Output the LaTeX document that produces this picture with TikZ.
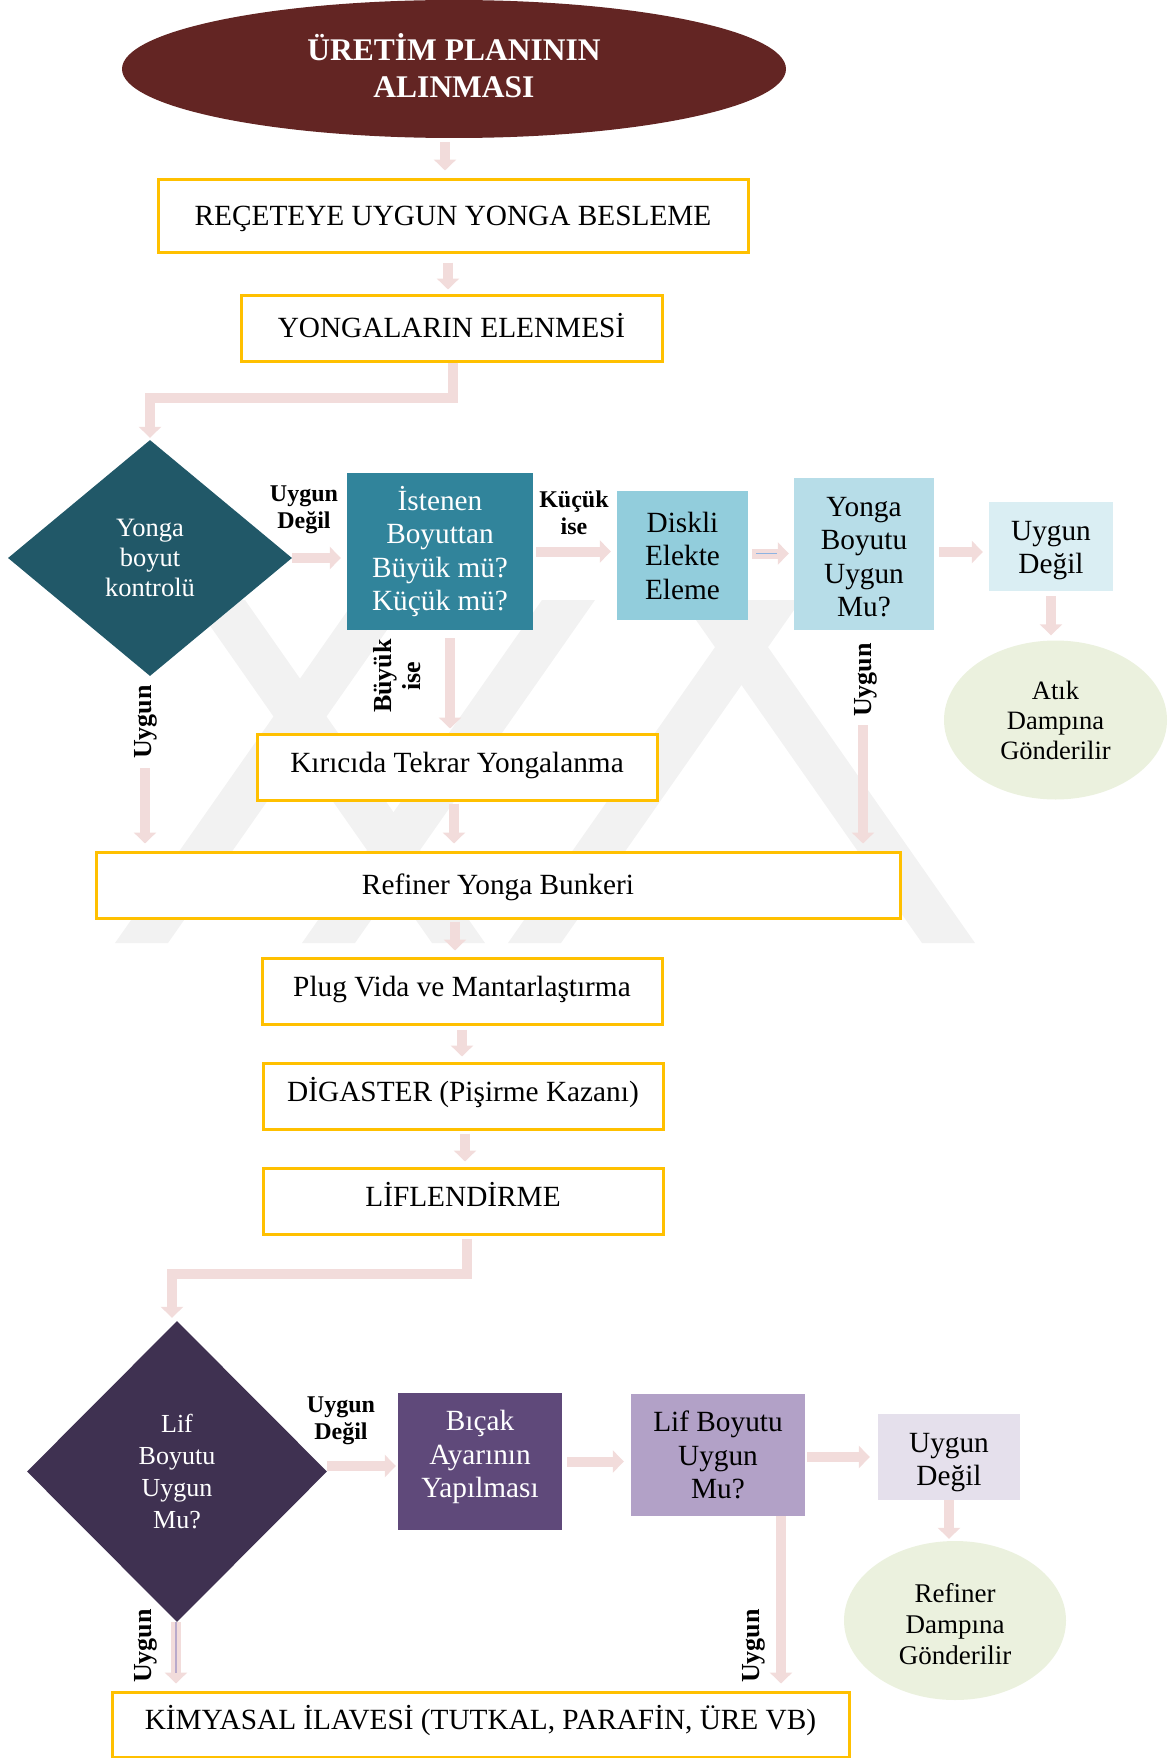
\documentclass[tikz,border=0pt]{standalone}
\usepackage{fontspec}
\setmainfont{Liberation Serif}
\usetikzlibrary{shapes.geometric,arrows.meta}

\definecolor{arrowpink}{HTML}{F2DCDB}
\definecolor{boxgold}{HTML}{FFC000}
\definecolor{maroon}{HTML}{632523}
\definecolor{tealdark}{HTML}{215868}
\definecolor{tealmid}{HTML}{31849B}
\definecolor{teallight}{HTML}{92CDDC}
\definecolor{tealpale}{HTML}{B7DDE8}
\definecolor{tealfaint}{HTML}{DAEEF3}
\definecolor{sage}{HTML}{EBF1DE}
\definecolor{plumdark}{HTML}{3F3151}
\definecolor{plummid}{HTML}{5F497A}
\definecolor{plumlight}{HTML}{B2A1C7}
\definecolor{plumfaint}{HTML}{E5E0EC}
\definecolor{markgray}{HTML}{F2F2F2}
\definecolor{hairplum}{HTML}{B9AACB}
\definecolor{hairblue}{HTML}{8DB3E2}

\tikzset{
  procbox/.style={draw=boxgold, line width=3pt, fill=white, inner sep=0pt,
    font=\fontsize{29.3}{33.5}\selectfont, align=center,
    text height=22pt, text depth=11.6pt},
  centred/.style={text height=24pt, text depth=4.6pt},
  colbox/.style={inner sep=0pt, font=\fontsize{29.3}{33.5}\selectfont, align=center},
  decision/.style={diamond, inner sep=0pt, text=white, align=center},
  outcome/.style={ellipse, fill=sage, inner sep=0pt, align=center,
    font=\fontsize{26.5}{30}\selectfont},
  tag/.style={font=\bfseries\fontsize{24}{27.5}\selectfont, align=center, inner sep=1pt},
  vtag/.style={font=\bfseries\fontsize{26}{29}\selectfont, align=center, rotate=90, inner sep=1pt},
  flow/.style={draw=arrowpink, line width=10pt, -{Triangle[width=22pt,length=11pt]}},
}

\begin{document}
\begin{tikzpicture}[x=1pt,y=-1pt]
\useasboundingbox (0,0) rectangle (1175,1758);

% faint background emblem
\fill[markgray] (115,943) -- (168,943) -- (408,600) -- (355,600) -- cycle;
\fill[markgray] (192,600) -- (245,600) -- (485,943) -- (432,943) -- cycle;
\fill[markgray] (302,943) -- (355,943) -- (595,600) -- (542,600) -- cycle;
\fill[markgray] (508,943) -- (561,943) -- (801,600) -- (748,600) -- cycle;
\fill[markgray] (682,600) -- (735,600) -- (975,943) -- (922,943) -- cycle;

% upper part
\node[ellipse, fill=maroon, minimum width=664pt, minimum height=138pt, inner sep=0pt]
  (title) at (454,69) {};
\node[text=white, font=\bfseries\fontsize{31.5}{37}\selectfont, align=center]
  (titletxt) at ([yshift=3pt]title.center) {ÜRETİM PLANININ\\ALINMASI};
\node[procbox, centred, minimum width=590pt, minimum height=73pt] (box1) at (453,215.5)
  {REÇETEYE UYGUN YONGA BESLEME};
\node[procbox, centred, minimum width=421pt, minimum height=66pt] (box2) at (451.5,328)
  {YONGALARIN ELENMESİ};

\node[decision, fill=tealdark, minimum width=284pt, minimum height=236pt,
  font=\fontsize{26.5}{30}\selectfont] (d1) at (150,558) {Yonga\\boyut\\kontrolü};
\node[tag] (t1) at (304,510) {Uygun\\Değil};
\node[colbox, fill=tealmid, text=white, minimum width=186pt, minimum height=157pt]
  (box3) at (440,551.5) {İstenen\\Boyuttan\\Büyük mü?\\Küçük mü?};
\node[tag] (t2) at (574,513) {Küçük\\ise};
\node[colbox, fill=teallight, minimum width=131pt, minimum height=129pt]
  (box4) at (682.5,555.5) {Diskli\\Elekte\\Eleme};
\node[colbox, fill=tealpale, minimum width=140pt, minimum height=152pt]
  (box5) at (864,554) {};
\node[colbox] (box5txt) at ([yshift=-3pt]box5.center) {Yonga\\Boyutu\\Uygun\\Mu?};
\node[colbox, fill=tealfaint, minimum width=124pt, minimum height=89pt]
  (box6) at (1051,546.5) {};
\node[colbox] (box6txt) at ([yshift=-4pt]box6.center) {Uygun\\Değil};
\node[outcome, minimum width=223pt, minimum height=159pt] (atik) at (1055.5,720)
  {Atık\\Dampına\\Gönderilir};

\node[vtag] (t3) at (397,676) {Büyük\\ise};
\node[vtag] (lblL) at (146,722) {Uygun};
\node[vtag] (lblR) at (866,680) {Uygun};

\node[procbox, minimum width=400pt, minimum height=66pt] (kir) at (457,767)
  {Kırıcıda Tekrar Yongalanma};
\node[procbox, centred, minimum width=804pt, minimum height=66pt] (ref) at (498,885)
  {Refiner Yonga Bunkeri};
\node[procbox, minimum width=400pt, minimum height=66pt] (plug) at (462,991)
  {Plug Vida ve Mantarlaştırma};
\node[procbox, minimum width=400pt, minimum height=66pt] (dig) at (463,1096)
  {DİGASTER (Pişirme Kazanı)};
\node[procbox, minimum width=400pt, minimum height=66pt] (liff) at (463,1201)
  {LİFLENDİRME};

% lower part
\node[decision, fill=plumdark, minimum width=300pt, minimum height=301pt,
  font=\fontsize{26}{32}\selectfont] (d2) at (177,1471.5) {Lif\\Boyutu\\Uygun\\Mu?};
\node[tag] (t4) at (341,1421) {Uygun\\Değil};
\node[colbox, fill=plummid, minimum width=164pt, minimum height=137pt]
  (bicak) at (480,1461.5) {};
\node[colbox, text=white] (bicaktxt) at ([yshift=4.5pt]bicak.center)
  {Bıçak\\Ayarının\\Yapılması};
\node[colbox, fill=plumlight, minimum width=174pt, minimum height=122pt]
  (lifbox) at (718,1455) {Lif Boyutu\\Uygun\\Mu?};
\node[colbox, fill=plumfaint, minimum width=142pt, minimum height=86pt]
  (ud2) at (949,1457) {};
\node[colbox] (ud2txt) at ([yshift=-5.5pt]ud2.center) {Uygun\\Değil};
\node[outcome, minimum width=222pt, minimum height=159pt] (refel) at (955,1620.5) {};
\node[font=\fontsize{27}{31}\selectfont, align=center, inner sep=0pt] (refeltxt)
  at ([yshift=-3.5pt]refel.center) {Refiner\\Dampına\\Gönderilir};
\node[vtag] (lblL2) at (146,1646) {Uygun};
\node[vtag] (lblR2) at (754,1646) {Uygun};
\node[procbox, minimum width=737pt, minimum height=65pt] (kim) at (480.5,1724.5)
  {KİMYASAL İLAVESİ (TUTKAL, PARAFİN, ÜRE VB)};

% connectors
\draw[flow, shorten <=4pt, shorten >=7pt] ([xshift=-9pt]title.south) -- ([xshift=-9pt]title.south |- box1.north);
\draw[flow, shorten <=9pt, shorten >=4pt] ([xshift=-5pt]box1.south) -- ([xshift=-5pt]box1.south |- box2.north);
\draw[flow, shorten >=2pt] ([xshift=1pt]box2.south) -- ++(0,35) -| (d1.north);
\draw[flow, shorten >=6pt] (d1.east) -- (d1.east -| box3.west);
\draw[flow, shorten <=3pt, shorten >=6pt] (box3.east) -- (box3.east -| box4.west);
\draw[flow, shorten <=4pt, shorten >=5pt] ([yshift=2pt]box4.east) -- ([yshift=2pt]box4.east -| box5.west);
\draw[hairblue, line width=1.2pt, shorten <=8pt, shorten >=17pt] ([yshift=2pt]box4.east) -- ([yshift=2pt]box4.east -| box5.west);
\draw[flow, shorten <=5pt, shorten >=6pt] ([yshift=2pt]box5.east) -- ([yshift=2pt]box5.east -| box6.west);
\draw[flow, shorten <=5pt, shorten >=5pt] (box6.south) -- (box6.south |- atik.north);
\draw[flow, shorten <=8pt, shorten >=4pt] ([xshift=10pt]box3.south) -- ([xshift=10pt]box3.south |- kir.north);
\draw[flow, shorten <=2pt, shorten >=7pt] ([xshift=-3pt]kir.south) -- ([xshift=-3pt]kir.south |- ref.north);
\draw[flow, shorten <=8pt, shorten >=7pt] ([xshift=-1pt]lblL.west) -- ([xshift=-1pt]lblL.west |- ref.north);
\draw[flow, shorten <=7pt, shorten >=7pt] ([xshift=-3pt]lblR.west) -- ([xshift=-3pt]lblR.west |- ref.north);
\draw[flow, shorten <=2pt, shorten >=6pt] ([xshift=-7pt]plug.north |- ref.south) -- ([xshift=-7pt]plug.north);
\draw[flow, shorten <=4pt, shorten >=5pt] (plug.south) -- (plug.south |- dig.north);
\draw[flow, shorten <=3pt, shorten >=5pt] ([xshift=2pt]dig.south) -- ([xshift=2pt]dig.south |- liff.north);
\draw[flow, shorten <=3pt, shorten >=3pt] ([xshift=4pt]liff.south) -- ++(0,38) -| ([xshift=-5pt]d2.north);
\draw[flow, shorten >=2pt] ([yshift=5.5pt]d2.east) -- ([yshift=5.5pt]d2.east -| bicak.west);
\draw[flow, shorten <=5pt, shorten >=7pt] (bicak.east) -- (bicak.east -| lifbox.west);
\draw[flow, shorten <=2pt, shorten >=8pt] ([yshift=-2pt]lifbox.east) -- ([yshift=-2pt]lifbox.east -| ud2.west);
\draw[flow, shorten >=2pt] (ud2.south) -- (ud2.south |- refel.north);
\draw[flow, shorten >=7pt] ([xshift=-1pt]d2.south) -- ([xshift=-1pt]d2.south |- kim.north);
\draw[hairplum, line width=1.2pt, shorten >=18pt] ([xshift=-1pt]d2.south) -- ([xshift=-1pt]d2.south |- kim.north);
\draw[flow, shorten >=7pt] ([xshift=63pt]lifbox.south) -- ([xshift=63pt]lifbox.south |- kim.north);
\end{tikzpicture}
\end{document}
